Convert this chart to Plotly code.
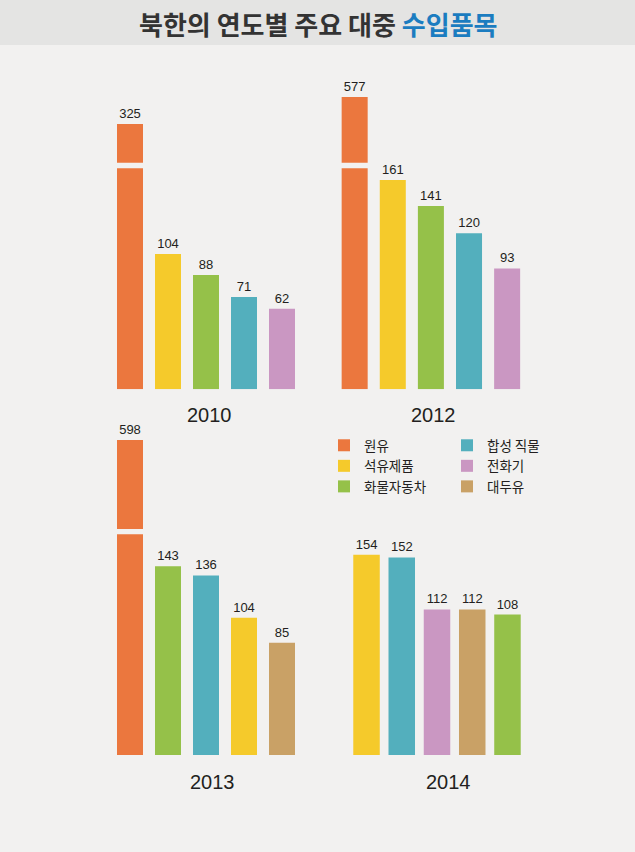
import plotly.graph_objects as go

# ---------------- data ----------------
products = ["원유", "석유제품", "화물자동차", "합성 직물", "전화기", "대두유"]
colors = ["#EB773E", "#F5CA2B", "#95C149", "#53AFBD", "#CA97C2", "#C9A166"]

years = ["2010", "2012", "2013", "2014"]

items_2010 = ["원유", "석유제품", "화물자동차", "합성 직물", "전화기"]
values_2010 = [325, 104, 88, 71, 62]

items_2012 = ["원유", "석유제품", "화물자동차", "합성 직물", "전화기"]
values_2012 = [577, 161, 141, 120, 93]

items_2013 = ["원유", "화물자동차", "합성 직물", "석유제품", "대두유"]
values_2013 = [598, 143, 136, 104, 85]

items_2014 = ["석유제품", "합성 직물", "전화기", "대두유", "화물자동차"]
values_2014 = [154, 152, 112, 112, 108]

legend_col1 = ["원유", "석유제품", "화물자동차"]
legend_col2 = ["합성 직물", "전화기", "대두유"]

title_main = "북한의 연도별 주요 대중 "
title_accent = "수입품목"

# ---------------- geometry ----------------
W, H = 635, 852
BG = "#F2F1F0"
TXT = "#231F20"
NUM_FONT = "Liberation Sans, Arial, sans-serif"
KR_FONT = "Noto Sans CJK KR, sans-serif"


def fx(px):
    return px / W


def fy(py):
    return 1 - py / H


color_of = dict(zip(products, colors))
fig = go.Figure()
layout_axes = {}
shown = set()
axis_n = [0]


def add_axes(xdom_px, ydom_px, yrange, cats):
    axis_n[0] += 1
    n = axis_n[0]
    sx = "" if n == 1 else str(n)
    layout_axes["xaxis" + sx] = dict(
        domain=[fx(xdom_px[0]), fx(xdom_px[1])], anchor="y" + sx,
        type="category", categoryorder="array", categoryarray=cats,
        range=[-0.5, 4.5], visible=False, fixedrange=True)
    layout_axes["yaxis" + sx] = dict(
        domain=[fy(ydom_px[1]), fy(ydom_px[0])], anchor="x" + sx,
        range=yrange, visible=False, fixedrange=True)
    return "x" + sx, "y" + sx


def add_panel(items, values, xdom_px, bar_w, base_px, lower_top_px, scale,
              broken=None):
    """broken = (top_px_of_bar, gap_bottom_px) for the first (oversized) bar"""
    ax_lo = add_axes(xdom_px, (lower_top_px, base_px),
                     [0, (base_px - lower_top_px) / scale], items)
    ax_hi = None
    if broken is not None:
        bar_top, gap_px = broken
        v = values[0]
        head = 24
        ax_hi = add_axes(xdom_px, (bar_top - head, gap_px),
                         [v - (gap_px - bar_top) / scale, v + head / scale],
                         items)
    for i, (it, val) in enumerate(zip(items, values)):
        is_broken = broken is not None and i == 0
        legend = "legend" if it in legend_col1 else "legend2"
        rank = (legend_col1 + legend_col2).index(it) + 1
        show = it not in shown
        shown.add(it)
        fig.add_trace(go.Bar(
            x=[it], y=[val], width=[bar_w],
            xaxis=ax_lo[0], yaxis=ax_lo[1],
            marker=dict(color=color_of[it], line=dict(width=0)),
            text=None if is_broken else [str(val)],
            textposition="outside", cliponaxis=is_broken,
            constraintext="none",
            textfont=dict(family=NUM_FONT, size=13, color=TXT),
            name=it, legendgroup=it, showlegend=show, legend=legend,
            legendrank=rank, hoverinfo="skip"))
        if is_broken:
            fig.add_trace(go.Bar(
                x=[it], y=[val], width=[bar_w],
                xaxis=ax_hi[0], yaxis=ax_hi[1],
                marker=dict(color=color_of[it], line=dict(width=0)),
                text=[str(val)], textposition="outside", cliponaxis=True,
                constraintext="none",
                textfont=dict(family=NUM_FONT, size=13, color=TXT),
                name=it, legendgroup=it, showlegend=False, legend=legend,
                hoverinfo="skip"))


SC = 1.30
add_panel(items_2010, values_2010, (111, 301), 26 / 38, 389.3, 168.3, SC,
          broken=(124, 162.7))
add_panel(items_2012, values_2012, (335.6, 526.2), 26 / 38.1, 389.3, 168.3, SC,
          broken=(97, 162.7))
add_panel(items_2013, values_2013, (111, 301), 26 / 38, 755, 534.3, 1.32,
          broken=(440, 529))
add_panel(items_2014, values_2014, (348.9, 525.1), 26.5 / 35.25, 755, 515, SC)

# ---------------- annotations ----------------
year_pos = [(209, 415), (433, 415), (212, 782), (448, 782)]
annotations = []
for yr, (px, py) in zip(years, year_pos):
    annotations.append(dict(
        text=yr, x=fx(px), y=fy(py), xref="paper", yref="paper",
        xanchor="center", yanchor="middle", showarrow=False,
        font=dict(family=NUM_FONT, size=20, color=TXT)))

annotations.append(dict(
    text="<b>" + title_main + "<span style='color:#1B7CC0'>" + title_accent + "</span></b>",
    x=fx(319), y=fy(23), xref="paper", yref="paper", xanchor="center",
    yanchor="middle", showarrow=False,
    font=dict(family=KR_FONT, size=26, color="#333333")))

shapes = [dict(type="rect", xref="paper", yref="paper", x0=0, x1=1,
               y0=fy(45), y1=1, fillcolor="#E4E4E3", line=dict(width=0),
               layer="below")]

legend_common = dict(
    orientation="v", xanchor="left", yanchor="top",
    bgcolor="rgba(0,0,0,0)", borderwidth=0, itemwidth=30,
    tracegroupgap=0, traceorder="normal",
    font=dict(family=KR_FONT, size=13.5, color=TXT),
    itemclick=False, itemdoubleclick=False)

fig.update_layout(
    width=W, height=H, margin=dict(l=0, r=0, t=0, b=0),
    paper_bgcolor=BG, plot_bgcolor="rgba(0,0,0,0)",
    barmode="overlay", showlegend=True,
    legend=dict(legend_common, x=fx(324), y=fy(430)),
    legend2=dict(legend_common, x=fx(447), y=fy(430)),
    annotations=annotations, shapes=shapes,
    **layout_axes)

fig.write_html("out.html",
               config={"displayModeBar": False, "staticPlot": True},
               post_script="document.body.style.margin='0';"
                           "document.body.style.background='#F2F1F0';")
